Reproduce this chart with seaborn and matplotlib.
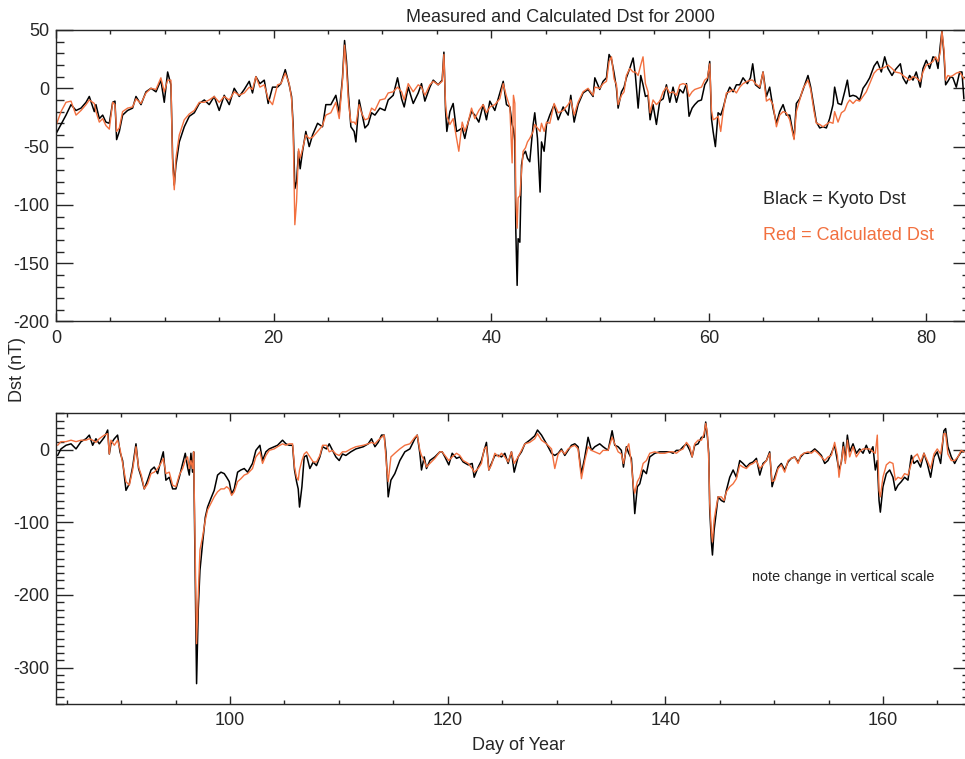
import matplotlib
matplotlib.use("Agg")
import matplotlib.pyplot as plt
from matplotlib.ticker import MultipleLocator
import pandas as pd
import seaborn as sns

# days 0-84: day of year, Kyoto Dst (black), calculated Dst (red)
top_day = [0.0, 0.46, 0.92, 1.38, 1.84, 2.30, 2.76, 3.06, 3.52, 3.67, 3.98, 4.29, 4.59, 4.90,
           5.21, 5.42, 5.57, 5.82, 6.12, 6.58, 7.04, 7.35, 7.81, 8.27, 8.73, 9.19, 9.64, 9.95,
           10.26, 10.56, 10.72, 10.87, 11.02, 11.33, 11.79, 12.25, 12.71, 13.17, 13.63, 14.08,
           14.54, 15.00, 15.46, 15.92, 16.38, 16.84, 17.30, 17.76, 18.06, 18.37, 18.74, 19.14,
           19.50, 19.90, 20.36, 20.67, 21.07, 21.43, 21.65, 21.80, 21.95, 22.11, 22.29, 22.44,
           22.66, 22.96, 23.27, 23.58, 24.04, 24.49, 24.80, 25.26, 25.72, 26.03, 26.33, 26.52,
           26.70, 26.88, 27.10, 27.40, 27.56, 27.86,
           28.08, 28.39, 28.69, 29.00, 29.31, 29.77, 30.23, 30.53, 30.99, 31.39, 31.76, 32.00,
           32.37, 32.83, 33.29, 33.59, 33.90, 34.36, 34.67, 35.12, 35.49, 35.65, 35.80, 35.92,
           36.20, 36.50, 36.81, 37.02, 37.33, 37.57, 37.88, 38.19, 38.49, 38.86, 39.26, 39.56,
           39.87, 40.33, 40.79, 41.10, 41.40, 41.71, 41.92, 42.04, 42.17, 42.26, 42.38, 42.47,
           42.63, 42.78, 42.93, 43.15, 43.33, 43.54, 43.85, 44.00, 44.25, 44.49, 44.62, 44.86,
           45.08, 45.38, 45.78, 46.15, 46.61, 47.07, 47.31, 47.62, 47.98, 48.44, 48.90, 49.36,
           49.52, 49.97, 50.28, 50.59, 50.83, 51.05, 51.29, 51.51, 51.66, 51.97, 52.21, 52.42,
           52.73, 53.04, 53.25, 53.50, 53.74, 53.95, 54.17, 54.41, 54.60, 54.87, 55.18, 55.49,
           55.80, 56.10, 56.41, 56.71, 57.02, 57.33, 57.63, 57.94, 58.18, 58.46, 58.70, 59.01,
           59.32, 59.62, 59.87, 60.08, 60.24, 60.39, 60.60, 60.85, 61.09, 61.31, 61.61, 61.92,
           62.23, 62.53, 62.84, 63.14, 63.54, 63.82, 64.03, 64.28, 64.68, 64.98, 65.29, 65.59,
           65.90, 66.21, 66.51, 66.82, 67.12, 67.43, 67.83, 68.04, 68.35, 68.66, 69.11, 69.36,
           69.67, 69.88, 70.19, 70.49, 70.80, 71.10, 71.41, 71.56, 71.87, 72.18, 72.48, 72.73,
           72.94, 73.25, 73.55, 73.86, 74.17, 74.47, 74.78, 75.18, 75.48, 75.85, 76.16, 76.46,
           76.83, 77.14, 77.60, 77.84, 78.15, 78.45, 78.76, 79.06, 79.43, 79.68, 79.98, 80.29,
           80.60, 80.84, 81.06, 81.27, 81.42, 81.61, 81.76, 81.97, 82.22, 82.43, 82.74, 83.05,
           83.26, 83.44]
top_kyoto = [-39, -31, -23, -14, -19, -17, -12, -7, -20, -14, -26, -23, -29, -30,
             -12, -11, -44, -37, -23, -19, -17, -7, -14, -3, 0, -3, 7, -12,
             14, 3, -60, -83, -66, -46, -33, -24, -21, -13, -10, -14,
             -7, -19, -6, -14, 0, -7, -1, 6, -4, 10, 4, 7,
             -13, 1, 1, 4, 16, 3, -7, -32, -86, -80, -54, -69,
             -54, -37, -50, -40, -30, -33, -14, -14, -6, -21, 9, 41,
             23, -6, -33, -37, -46, -10,
             -20, -34, -31, -21, -23, -17, -19, -10, -6, 9, -9, -16,
             1, -13, -4, 4, -11, 1, 7, 3, 7, 31, -19, -37,
             -20, -13, -37, -36, -34, -43, -29, -20, -23, -29, -14, -27,
             -11, -19, -4, 6, -14, -16, -31, -35, -45, -123, -169, -129,
             -132, -66, -57, -54, -60, -63, -31, -21, -43, -89, -46, -54,
             -31, -23, -14, -27, -16, -23, -6, -29, -14, -4, -1, -7,
             9, -1, 6, 9, 29, 25, 13, 0, -17, -3, 1, 9,
             17, 26, 11, -17, 11, 3, -7, -6, -27, -14, -31, -11,
             -9, 3, -12, 1, -12, -1, -4, 4, -24, -17, -14, -11,
             -10, 3, 7, 23, -26, -37, -50, -21, -23, -17, -6, 1,
             -3, 3, 3, 9, 4, 9, 21, 3, 0, 14, -7, 1,
             -17, -30, -20, -14, -23, -23, -43, -13, -9, -1, 11, 1,
             -17, -29, -34, -33, -34, -26, -14, 1, -13, -14, -3, 7,
             -7, -6, -7, -10, 0, 4, 9, 19, 23, 14, 27, 17,
             11, 16, 21, 9, 4, 11, 7, 14, 1, 17, 24, 17,
             27, 26, 17, 37, 49, 29, 3, 6, 10, 9, 1, 14,
             14, -9]
top_calc = [-32, -20, -12, -11, -23, -19, -14, -10, -13, -20, -29, -26, -32, -35,
            -12, -14, -37, -34, -20, -17, -16, -9, -13, -4, 0, -1, 9, -3,
            7, 7, -66, -87, -60, -40, -27, -22, -19, -12, -12, -10,
            -7, -12, -7, -10, -3, -6, -4, 1, -1, 10, 1, 3,
            -9, -14, 3, 4, 13, 4, -9, -37, -117, -97, -52, -60,
            -52, -40, -43, -42, -37, -32, -23, -21, -12, -26, 7, 37,
            17, -12, -29, -29, -31, -14,
            -21, -27, -26, -17, -19, -10, -9, -4, -3, 1, -3, -10,
            4, -3, 3, 1, -6, 3, 6, 3, 6, 29, -14, -24,
            -31, -26, -43, -54, -29, -37, -29, -17, -26, -19, -14, -21,
            -16, -14, -9, 4, -7, -16, -64, -6, -13, -94, -120, -94,
            -92, -72, -54, -51, -46, -43, -37, -31, -34, -37, -30, -37,
            -29, -30, -13, -21, -19, -14, -10, -23, -12, -3, 0, -6,
            1, 0, 4, 6, 23, 27, 8, 3, -14, -6, -3, 11,
            17, 14, 14, 11, 20, 27, 4, -3, -21, -10, -14, -11,
            -3, 1, -4, -3, -6, 3, 4, 3, -7, -3, -1, 0,
            1, 7, 9, 21, -19, -27, -26, -24, -37, -20, -4, -3,
            -1, -4, 1, 4, 6, 7, 7, 4, 1, 14, -11, -9,
            -14, -33, -23, -20, -21, -27, -44, -20, -10, 0, 7, -1,
            -20, -30, -31, -33, -31, -29, -30, -20, -29, -21, -19, -13,
            -10, -13, -10, -11, -7, -3, 4, 13, 16, 17, 18, 20,
            17, 14, 13, 11, 9, 7, 10, 9, 6, 14, 20, 21,
            23, 27, 23, 31, 49, 33, 7, 11, 10, 11, 13, 14,
            11, 8]

# days 84-168
bot_day = [84.15, 84.46, 84.92, 85.38, 85.84, 86.30, 86.76, 87.06, 87.37, 87.67, 87.98, 88.44,
           88.75, 88.90, 89.05, 89.36, 89.66, 89.88, 90.12, 90.43, 90.74, 91.04, 91.35, 91.59,
           91.84, 92.11, 92.42, 92.73, 93.03, 93.34, 93.64, 93.86, 94.10, 94.41, 94.72, 95.02,
           95.33, 95.64, 95.88, 96.09, 96.25, 96.40, 96.55, 96.65, 96.80, 96.92, 97.07, 97.23,
           97.47, 97.72, 97.93, 98.24, 98.54, 98.85, 99.16, 99.46, 99.68, 99.92, 100.14, 100.38,
           100.69, 100.99, 101.30, 101.61, 102.06, 102.37, 102.74, 102.98, 103.29, 103.60,
           104.05, 104.36, 104.82, 105.13, 105.43, 105.74, 105.92, 106.11, 106.26, 106.38,
           106.60, 106.81, 107.03, 107.33, 107.64, 107.94, 108.25, 108.50, 108.86, 109.11,
           109.41, 109.72, 110.03, 110.33, 110.64, 111.10, 111.56,
           112.24, 112.69, 113.00, 113.31, 113.61, 113.92, 114.16, 114.32, 114.41, 114.53,
           114.78, 115.14, 115.60, 116.06, 116.52, 116.98, 117.20, 117.44, 117.59, 117.84,
           118.05, 118.36, 118.82, 119.28, 119.49, 119.74, 120.10, 120.41, 120.81, 121.11,
           121.42, 121.88, 122.25, 122.43, 122.80, 123.10, 123.35, 123.56, 123.78, 124.02,
           124.33, 124.70, 124.94, 125.25, 125.55, 125.86, 126.11, 126.47, 126.78, 127.09,
           127.54, 128.00, 128.25, 128.62, 129.08, 129.54, 129.84, 130.15, 130.45, 130.76,
           131.07, 131.37, 131.68, 131.98, 132.29, 132.60, 132.90, 133.21, 133.52, 133.97,
           134.28, 134.74, 135.11, 135.35, 135.66, 135.96, 136.15, 136.42, 136.64, 136.88,
           137.07, 137.19, 137.43, 137.65, 137.96, 138.26, 138.57, 139.03,
           139.49, 139.95, 140.41, 140.71, 141.02, 141.33, 141.63, 141.94, 142.25, 142.46,
           142.70, 143.01, 143.32, 143.56, 143.71, 143.87, 143.99, 144.08, 144.24, 144.33,
           144.48, 144.63, 144.85, 145.15, 145.40, 145.61, 145.92, 146.23, 146.53, 146.84,
           147.14, 147.45, 147.76, 148.06, 148.37, 148.68, 148.98, 149.29, 149.59, 149.81,
           150.05, 150.36, 150.66, 150.97, 151.28, 151.58, 151.89, 152.20, 152.44, 152.75,
           153.11, 153.42, 153.73, 154.03, 154.34, 154.65, 154.95, 155.26, 155.56, 155.81,
           155.96, 156.18, 156.36, 156.54, 156.73, 156.94, 157.25, 157.55, 157.86, 158.17,
           158.47, 158.78, 159.08, 159.30, 159.48, 159.64, 159.76, 160.00, 160.31, 160.62,
           160.92, 161.14, 161.38, 161.69, 161.99, 162.30, 162.61, 162.85, 163.16, 163.46,
           163.77, 164.07, 164.38, 164.69, 164.99, 165.30, 165.60, 165.76, 165.97, 166.28,
           166.59, 166.89, 167.20, 167.44]
bot_kyoto = [-8, 1, 6, 8, 1, 11, 15, 20, 6, 15, 8, 17,
             27, -6, 8, 15, 20, -3, -15, -56, -47, -24, 8, -26,
             -38, -54, -42, -28, -24, -33, -15, -3, -42, -38, -54, -54,
             -38, -19, -5, -24, -35, -5, -31, -3, -175, -322, -221, -166,
             -129, -93, -79, -67, -56, -35, -31, -33, -38, -44, -61, -54,
             -31, -28, -26, -31, -19, -1, 6, -15, -3, 1,
             4, 6, 13, 8, 6, 6, -28, -44, -54, -79,
             -51, -10, -8, -26, -17, -22, -10, 4, 1, 8,
             -1, -10, -15, -6, -8, -3, 1,
             4, 8, 15, 4, 10, 20, 20, -3, -28, -65,
             -42, -33, -15, -3, 1, 15, 20, -5, -28, -10,
             -26, -15, -10, -3, -3, -10, -21, -5, -12, -10,
             -17, -21, -19, -38, -24, -15, -1, 10, -28, -19,
             -8, -8, -10, -5, -19, -3, -31, -10, -3, 8,
             13, 19, 27, 20, 8, -5, -8, -5, 1, -8,
             -1, 6, 8, 4, -33, -10, 17, -1, 4, 8,
             4, -1, 26, 6, 4, -1, -24, 4, -5, -12,
             -56, -88, -51, -47, -28, -33, -10, -5,
             -3, -3, -3, -5, -1, -1, 4, 8, -1, -10,
             6, 8, 17, 17, 38, 17, -5, -83, -129, -145,
             -111, -92, -65, -70, -72, -56, -38, -28, -38, -15,
             -19, -24, -19, -17, -12, -35, -19, -15, -3, -51,
             -38, -24, -19, -28, -17, -12, -10, -17, -10, -5,
             -5, -3, 1, -3, -8, -19, -15, -5, 6, -15,
             -28, -17, 10, -15, 20, -3, 8, -5, 1, -5,
             6, -5, 4, -28, -15, -70, -86, -51, -33, -28,
             -38, -56, -49, -44, -38, -42, -8, -19, -15, -24,
             -5, -19, -38, -10, -3, -19, 26, 29, 4, -10,
             -19, -10, -3, -3]
bot_calc = [6, 11, 11, 13, 11, 13, 13, 15, 13, 10, 15, 20,
            22, -6, 13, 6, 13, 1, -19, -44, -49, -28, 4, -24,
            -35, -54, -47, -33, -31, -26, -19, -12, -33, -31, -49, -51,
            -35, -26, -15, -10, -26, -15, -26, -3, -152, -267, -202, -138,
            -120, -97, -83, -74, -65, -58, -54, -54, -51, -54, -63, -58,
            -44, -40, -35, -33, -26, -10, -3, -19, -8, -1,
            1, 4, 8, 6, 8, 8, -24, -38, -42, -28,
            -15, -6, -3, -10, -17, -17, -8, 6, 6, -3,
            -1, -6, -8, -3, -3, 1, 4,
            6, 8, 10, 8, 13, 17, 20, -10, -28, -44,
            -10, -5, 1, 6, 8, 17, 20, -1, -8, -15,
            -24, -19, -12, -3, -3, -8, -15, -10, -5, -8,
            -15, -19, -26, -31, -26, -19, 1, 4, -28, -21,
            -5, -10, -5, -10, -17, -3, -19, -10, -1, 8,
            10, 15, 22, 13, 8, 1, -26, -6, -1, -6,
            1, 4, 6, 1, -40, -15, 4, -1, -3, -6,
            -1, -1, 17, 8, -3, -6, -19, 1, 8, -19,
            -51, -60, -44, -38, -19, -15, -5, -3,
            -5, -5, -3, -3, -5, -1, 1, 10, 4, -10,
            8, 13, 13, 22, 36, 22, -15, -74, -115, -127,
            -97, -83, -65, -65, -70, -58, -51, -47, -40, -21,
            -24, -26, -21, -19, -15, -26, -21, -15, -5, -44,
            -42, -26, -21, -31, -15, -12, -10, -19, -8, -5,
            -3, -5, -1, -5, -10, -15, -10, -8, 10, -8,
            -38, -15, 4, -19, 13, -10, 4, -10, -3, 1,
            1, 1, -3, -5, 20, -56, -65, -38, -21, -17,
            -19, -42, -38, -40, -33, -35, -19, -10, -6, -17,
            -5, -15, -26, -6, 1, -6, 22, 22, -6, -15,
            -15, -10, -1, -3]

orange = '#F2703F'

sns.set_style('ticks')
plt.rcParams['font.family'] = ['Liberation Sans', 'DejaVu Sans']
plt.rcParams['axes.unicode_minus'] = False

df_top = pd.DataFrame({'day': top_day, 'kyoto': top_kyoto, 'calc': top_calc})
df_bot = pd.DataFrame({'day': bot_day, 'kyoto': bot_kyoto, 'calc': bot_calc})

fig = plt.figure(figsize=(9.65, 7.59), dpi=100)
ax1 = fig.add_axes([56 / 965, 1 - 321.5 / 759, 914 / 965, 291.5 / 759])
ax2 = fig.add_axes([56 / 965, 1 - 704 / 759, 914 / 965, 290.7 / 759])

for ax, df in [(ax1, df_top), (ax2, df_bot)]:
    sns.lineplot(data=df, x='day', y='kyoto', ax=ax, color='black', linewidth=1.1,
                 estimator=None, sort=False)
    sns.lineplot(data=df, x='day', y='calc', ax=ax, color=orange, linewidth=1.0,
                 estimator=None, sort=False)
    ax.set_xlabel('')
    ax.set_ylabel('')
    ax.xaxis.set_major_locator(MultipleLocator(20))
    ax.xaxis.set_minor_locator(MultipleLocator(5))
    ax.yaxis.set_minor_locator(MultipleLocator(10))
    ax.tick_params(which='both', direction='in', top=True, right=True,
                   labelsize=13, width=1)
    ax.tick_params(axis='y', which='major', length=12, pad=5)
    ax.tick_params(axis='y', which='minor', length=6)
    ax.tick_params(axis='x', which='major', length=5.5, pad=6)
    ax.tick_params(axis='x', which='minor', length=2.8)
    for s in ax.spines.values():
        s.set_linewidth(1.0)

ax1.set_xlim(0, 84)
ax1.set_ylim(-200, 50)
ax1.yaxis.set_major_locator(MultipleLocator(50))
ax2.set_xlim(84, 168)
ax2.set_ylim(-350, 50)
ax2.set_yticks([-300, -200, -100, 0])

fig.text(560 / 965, 1 - 18 / 759, 'Measured and Calculated Dst for 2000',
         ha='center', va='center', fontsize=13)
fig.text(18 / 965, 1 - 370 / 759, 'Dst (nT)', rotation=90, ha='center', va='center', fontsize=13)
fig.text(518 / 965, 1 - 745 / 759, 'Day of Year', ha='center', va='center', fontsize=13)
fig.text(763 / 965, 1 - 200 / 759, 'Black = Kyoto Dst', ha='left', va='center', fontsize=13)
fig.text(763 / 965, 1 - 235 / 759, 'Red = Calculated Dst', ha='left', va='center',
         fontsize=13, color=orange)
fig.text(752 / 965, 1 - 577 / 759, 'note change in vertical scale', ha='left', va='center',
         fontsize=10.4)

fig.savefig('out.png', dpi=100)
